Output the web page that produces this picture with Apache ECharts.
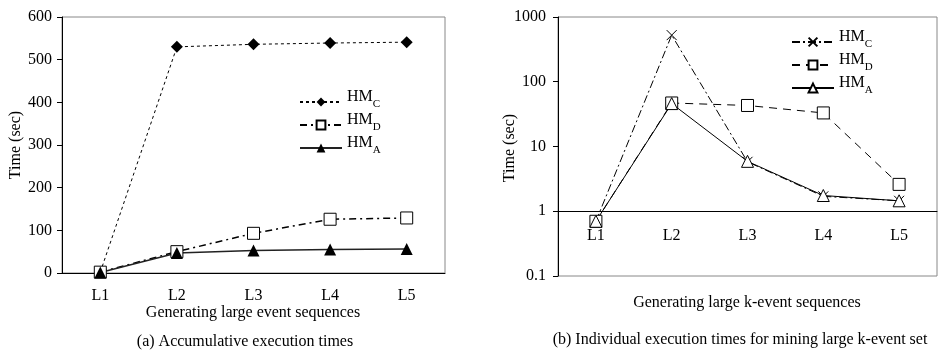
<!DOCTYPE html>
<html>
<head>
<meta charset="utf-8">
<script src="https://cdn.jsdelivr.net/npm/echarts@6/dist/echarts.min.js"></script>
<style>
  html, body { margin: 0; background: #fff; }
  #chart { width: 943px; height: 351px; }
</style>
</head>
<body>
<div id="chart"></div>
<script>
// data
const levels = ['L1', 'L2', 'L3', 'L4', 'L5'];
// (a) accumulative execution times, sec
const accHMC = [2, 530, 536, 539, 541];
const accHMD = [2, 50, 93, 126, 129];
const accHMA = [1, 47, 53, 55, 56];
// (b) individual execution times, sec (log scale)
const indHMC = [0.7, 525, 5.8, 1.7, 1.45];
const indHMD = [0.7, 47, 43, 33, 2.6];
const indHMA = [0.7, 46, 5.9, 1.75, 1.45];

const font = 'Liberation Serif, Times New Roman, serif';
const fs = 16;
const black = '#000';
const frame = '#888';

const chart = echarts.init(document.getElementById('chart'));

// "HM" with a subscript letter, the subscript sits lower than the baseline
const legendFormatter = name => '{m|HM}{s|' + name.charAt(2) + '}';
const legendRich = {
  m: { fontFamily: font, fontSize: fs, color: black, verticalAlign: 'bottom', lineHeight: 16, padding: [0, 0, 5, 0] },
  s: { fontFamily: font, fontSize: 11, color: black, verticalAlign: 'bottom', lineHeight: 11 }
};

const xPath = 'path://M0,0L10,10M10,0L0,10';

function label(text, x, y, rot) {
  return {
    type: 'text', x: x, y: y, rotation: rot || 0,
    style: { text: text, font: fs + 'px ' + font, fill: black, align: 'center', verticalAlign: 'middle' }
  };
}

chart.setOption({
  animation: false,
  grid: [
    { left: 62, top: 17, width: 383, height: 256, show: true, borderColor: frame, borderWidth: 1 },
    { left: 558, top: 17, width: 379, height: 259, show: true, borderColor: frame, borderWidth: 1 },
    { left: 558, top: 17, width: 379, height: 194 }
  ],
  xAxis: [
    {
      gridIndex: 0, type: 'category', data: levels,
      axisLine: { lineStyle: { color: black, width: 1 } },
      axisTick: { inside: true, length: 7, lineStyle: { color: black } },
      axisLabel: { fontFamily: font, fontSize: fs, color: black, margin: 15 }
    },
    { gridIndex: 1, type: 'category', data: levels, show: false },
    {
      gridIndex: 2, type: 'category', data: levels,
      axisLine: { lineStyle: { color: black, width: 1 } },
      axisTick: { inside: false, length: 6, lineStyle: { color: black } },
      axisLabel: { fontFamily: font, fontSize: fs, color: black, margin: 17 }
    }
  ],
  yAxis: [
    {
      gridIndex: 0, type: 'value', min: 0, max: 600, interval: 100,
      axisLine: { show: true, lineStyle: { color: black } },
      axisTick: { show: true, length: 5, lineStyle: { color: black } },
      axisLabel: { fontFamily: font, fontSize: fs, color: black, margin: 10 },
      splitLine: { show: false }
    },
    {
      gridIndex: 1, type: 'log', logBase: 10, min: 0.1, max: 1000,
      axisLine: { show: true, lineStyle: { color: black } },
      axisTick: { show: true, length: 5, lineStyle: { color: black } },
      axisLabel: {
        fontFamily: font, fontSize: fs, color: black, margin: 12,
        formatter: v => String(Math.round(v * 10) / 10)
      },
      splitLine: { show: false }
    },
    { gridIndex: 2, type: 'value', show: false }
  ],
  legend: [
    {
      left: 294, top: 84, orient: 'vertical', itemWidth: 42, itemHeight: 11, itemGap: 2,
      data: ['HMC_a', 'HMD_a', 'HMA_a'], formatter: legendFormatter,
      textStyle: { rich: legendRich }, selectedMode: false
    },
    {
      left: 786, top: 24, orient: 'vertical', itemWidth: 42, itemHeight: 11, itemGap: 2,
      data: ['HMC_b', 'HMD_b', 'HMA_b'], formatter: legendFormatter,
      textStyle: { rich: legendRich }, selectedMode: false
    }
  ],
  graphic: [
    label('Time (sec)', 16, 145, Math.PI / 2),
    label('Generating large event sequences', 253, 313),
    label('(a) Accumulative execution times', 245, 342),
    label('Time (sec)', 510, 148, Math.PI / 2),
    label('Generating large k-event sequences', 747, 303),
    label('(b) Individual execution times for mining large k-event set', 740, 340)
  ],
  series: [
    {
      name: 'HMC_a', type: 'line', xAxisIndex: 0, yAxisIndex: 0, data: accHMC,
      symbol: 'diamond', symbolSize: 12,
      lineStyle: { color: black, width: 1, type: [3, 3] },
      itemStyle: { color: black }
    },
    {
      name: 'HMD_a', type: 'line', xAxisIndex: 0, yAxisIndex: 0, data: accHMD,
      symbol: 'rect', symbolSize: 12,
      lineStyle: { color: black, width: 1.5, type: [7, 4, 2, 4] },
      itemStyle: { color: '#fff', borderColor: black, borderWidth: 1 }
    },
    {
      name: 'HMA_a', type: 'line', xAxisIndex: 0, yAxisIndex: 0, data: accHMA,
      symbol: 'triangle', symbolSize: 12,
      lineStyle: { color: '#222', width: 1.5, type: 'solid' },
      itemStyle: { color: black }
    },
    {
      name: 'HMC_b', type: 'line', xAxisIndex: 1, yAxisIndex: 1, data: indHMC,
      symbol: xPath, symbolSize: 10,
      lineStyle: { color: black, width: 1, type: [8, 3, 2, 3] },
      itemStyle: { color: 'none', borderColor: black, borderWidth: 1 }
    },
    {
      name: 'HMD_b', type: 'line', xAxisIndex: 1, yAxisIndex: 1, data: indHMD,
      symbol: 'rect', symbolSize: 12,
      lineStyle: { color: black, width: 1, type: [8, 6] },
      itemStyle: { color: '#fff', borderColor: black, borderWidth: 1 }
    },
    {
      name: 'HMA_b', type: 'line', xAxisIndex: 1, yAxisIndex: 1, data: indHMA,
      symbol: 'triangle', symbolSize: 12,
      lineStyle: { color: black, width: 1, type: 'solid' },
      itemStyle: { color: '#fff', borderColor: black, borderWidth: 1 }
    }
  ]
});
</script>
</body>
</html>
